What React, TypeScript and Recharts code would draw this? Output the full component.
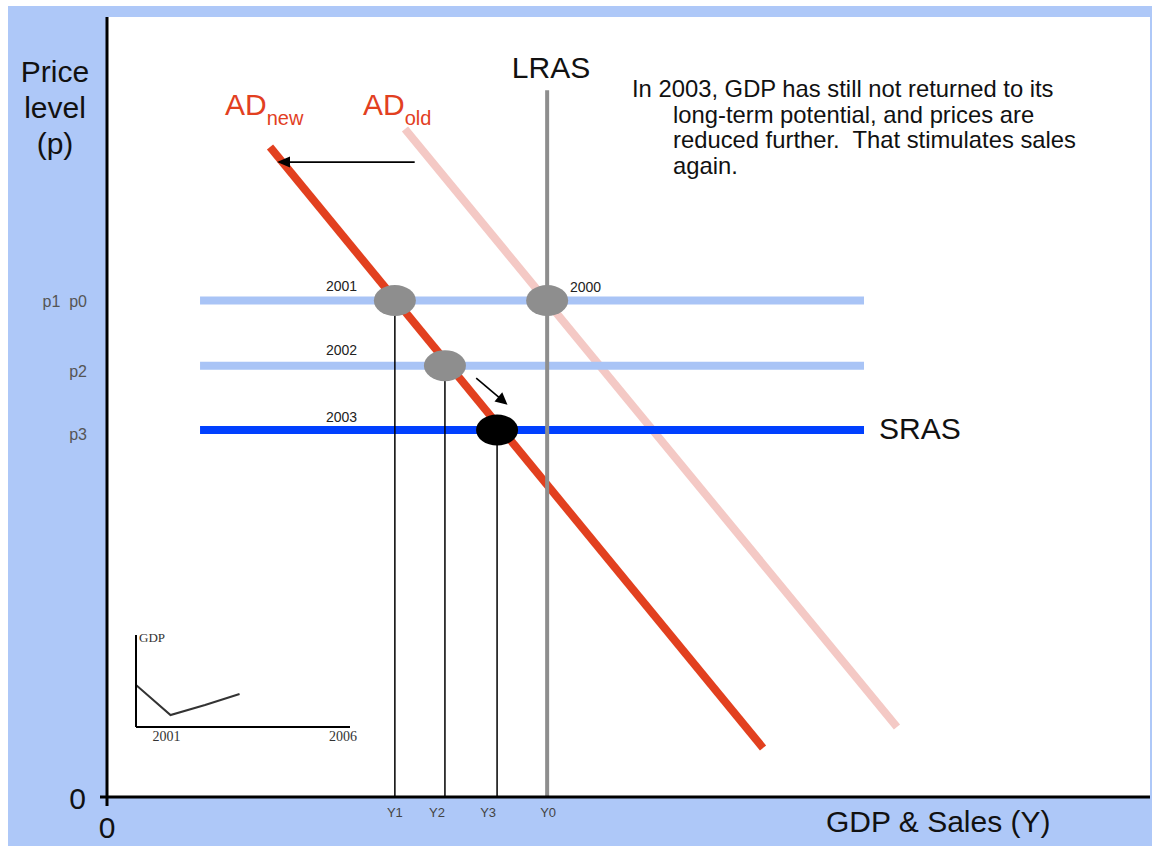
import React from 'react';
import { ComposedChart, LineChart, Line, XAxis, YAxis, Scatter, ReferenceLine } from 'recharts';

const SANS = '"Liberation Sans", Arial, Helvetica, sans-serif';
const SERIF = '"Liberation Serif", "Times New Roman", serif';

// ---- quantities (x: output Y, y: price level p), both on a 0..100 scale ----
const Y1 = 27.6;
const Y2 = 32.4;
const Y3 = 37.4;
const Y0 = 42.2;
const p0 = 63.65;
const p2 = 55.3;
const p3 = 47.05;

const xTicks = [0, Y1, Y2, Y3, Y0];
const xTickLabels = ['0', 'Y1', 'Y2', 'Y3', 'Y0'];
const yTicks = [0, p3, p2, p0];
const yTickLabels = ['0', 'p3', 'p2', 'p1  p0'];

const adNew = [{ x: 15.63, y: 83.33 }, { x: 62.9, y: 6.28 }];
const adOld = [{ x: 28.57, y: 85.64 }, { x: 75.74, y: 8.97 }];
const lras = [{ x: Y0, y: 0 }, { x: Y0, y: 90.6 }];
const srasFrom = 8.92;
const srasTo = 72.58;
const srasP0 = [{ x: srasFrom, y: p0 }, { x: srasTo, y: p0 }];
const srasP2 = [{ x: srasFrom, y: p2 }, { x: srasTo, y: p2 }];
const srasP3 = [{ x: srasFrom, y: p3 }, { x: srasTo, y: p3 }];
const dropY1 = [{ x: Y1, y: 0 }, { x: Y1, y: p0 }];
const dropY2 = [{ x: Y2, y: 0 }, { x: Y2, y: p2 }];
const dropY3 = [{ x: Y3, y: 0 }, { x: Y3, y: p3 }];

const pastEquilibria = [
  { x: Y0, y: p0, year: '2000' },
  { x: Y1, y: p0, year: '2001' },
  { x: Y2, y: p2, year: '2002' },
];
const currentEquilibrium = [{ x: Y3, y: p3, year: '2003' }];

const shiftArrow = [{ x: 29.5, y: 81.4 }, { x: 16.3, y: 81.4 }];
const moveArrow = [{ x: 35.4, y: 53.7 }, { x: 38.4, y: 50.3 }];

// inset GDP path
const insetYears = [2000, 2001, 2002, 2003];
const insetGdp = [45.7, 13, 23.9, 35.9];
const insetData = insetYears.map((yr, i) => ({ year: yr, gdp: insetGdp[i] }));
const insetTicks = [2001, 2006];

const BG_BLUE = '#aec8f8';
const LIGHT_BLUE = '#a9c4f6';
const DARK_BLUE = '#0040ff';
const RED = '#e2401f';
const PINK = '#f4c9c5';
const GRAY = '#8e8e8e';

const xDx = [0, 0, -8, -9, 1];
const XTick = (props: any) => {
  const { x, y, payload } = props;
  const idx = xTicks.indexOf(payload.value);
  const label = idx >= 0 ? xTickLabels[idx] : '';
  if (payload.value === 0) {
    return (
      <g>
        <line x1={x} y1={y} x2={x} y2={y + 9} stroke="#000" strokeWidth={3} />
        <text x={x} y={y + 41} textAnchor="middle" fontFamily={SANS} fontSize={30} fill="#111">{label}</text>
      </g>
    );
  }
  return (
    <text x={x + xDx[idx]} y={y + 20} textAnchor="middle" fontFamily={SANS} fontSize={13} fill="#444">{label}</text>
  );
};

const yDy = [0, 10, 11, 6];
const YTick = (props: any) => {
  const { x, y, payload } = props;
  const idx = yTicks.indexOf(payload.value);
  const label = idx >= 0 ? yTickLabels[idx] : '';
  if (payload.value === 0) {
    return (
      <g>
        <line x1={x - 7} y1={y} x2={x} y2={y} stroke="#000" strokeWidth={3} />
        <text x={x - 21} y={y + 12} textAnchor="end" fontFamily={SANS} fontSize={30} fill="#111">{label}</text>
      </g>
    );
  }
  return (
    <text x={x - 20} y={y + yDy[idx]} textAnchor="end" fontFamily={SANS} fontSize={16} fill="#555" style={{ whiteSpace: 'pre' }}>{label}</text>
  );
};

const InsetTick = (props: any) => {
  const { x, y, payload } = props;
  return (
    <text x={payload.value === 2006 ? x : x - 4} y={y + 14} textAnchor="middle" fontFamily={SERIF} fontSize={14} fill="#333">{String(payload.value)}</text>
  );
};

const makeArrow = (head: number, half: number) => (props: any) => {
  const { x1, y1, x2, y2 } = props;
  const ang = Math.atan2(y2 - y1, x2 - x1);
  const bx = x2 - head * Math.cos(ang);
  const by = y2 - head * Math.sin(ang);
  const px = -Math.sin(ang) * half;
  const py = Math.cos(ang) * half;
  return (
    <g>
      <line x1={x1} y1={y1} x2={bx + 2 * Math.cos(ang)} y2={by + 2 * Math.sin(ang)} stroke="#000" strokeWidth={1.6} />
      <polygon points={`${x2},${y2} ${bx + px},${by + py} ${bx - px},${by - py}`} fill="#000" />
    </g>
  );
};

const Ellipse = (color: string) => (props: any) => {
  const { cx, cy } = props;
  return <ellipse cx={cx} cy={cy} rx={21} ry={15.5} fill={color} />;
};

export default function App() {
  return (
    <div style={{ position: 'absolute', left: 0, top: 0, width: 1152, height: 846, background: '#fff' }}>
      <div style={{ position: 'absolute', left: 8, top: 6, width: 1144, height: 840, background: BG_BLUE }} />
      <div style={{ position: 'absolute', left: 107, top: 17, width: 1043, height: 780, background: '#fff' }} />
      <div style={{ position: 'absolute', left: 0, top: 0 }}>
        <ComposedChart width={1152} height={846} margin={{ top: 17, right: 2, bottom: 0, left: 7 }}>
          <XAxis
            type="number"
            dataKey="x"
            domain={[0, 100]}
            ticks={xTicks}
            interval={0}
            height={49}
            tickSize={0}
            tickMargin={0}
            tickLine={false}
            axisLine={{ stroke: '#000', strokeWidth: 3 }}
            tick={<XTick />}
            allowDataOverflow
          />
          <YAxis
            type="number"
            dataKey="y"
            domain={[0, 100]}
            ticks={yTicks}
            interval={0}
            width={100}
            tickSize={0}
            tickMargin={0}
            tickLine={false}
            axisLine={{ stroke: '#000', strokeWidth: 3 }}
            tick={<YTick />}
            allowDataOverflow
          />
          <Line data={adOld} dataKey="y" stroke={PINK} strokeWidth={8} dot={false} activeDot={false} isAnimationActive={false} />
          <Line data={adNew} dataKey="y" stroke={RED} strokeWidth={8} dot={false} activeDot={false} isAnimationActive={false} />
          <Line data={srasP0} dataKey="y" stroke={LIGHT_BLUE} strokeWidth={8} dot={false} activeDot={false} isAnimationActive={false} />
          <Line data={srasP2} dataKey="y" stroke={LIGHT_BLUE} strokeWidth={8} dot={false} activeDot={false} isAnimationActive={false} />
          <Line data={srasP3} dataKey="y" stroke={DARK_BLUE} strokeWidth={8} dot={false} activeDot={false} isAnimationActive={false} />
          <Line data={lras} dataKey="y" stroke={GRAY} strokeWidth={4} dot={false} activeDot={false} isAnimationActive={false} />
          <Line data={dropY1} dataKey="y" stroke="#000" strokeWidth={1.5} dot={false} activeDot={false} isAnimationActive={false} />
          <Line data={dropY2} dataKey="y" stroke="#000" strokeWidth={1.5} dot={false} activeDot={false} isAnimationActive={false} />
          <Line data={dropY3} dataKey="y" stroke="#000" strokeWidth={1.5} dot={false} activeDot={false} isAnimationActive={false} />
          <Scatter data={pastEquilibria} dataKey="y" shape={Ellipse('#8e8e8e')} isAnimationActive={false} />
          <Scatter data={currentEquilibrium} dataKey="y" shape={Ellipse('#000')} isAnimationActive={false} />
          <ReferenceLine segment={shiftArrow} stroke="#000" shape={makeArrow(13, 5.5)} ifOverflow="visible" />
          <ReferenceLine segment={moveArrow} stroke="#000" shape={makeArrow(12, 6)} ifOverflow="visible" />
        </ComposedChart>
      </div>

      <div style={{ position: 'absolute', left: 126, top: 625 }}>
        <LineChart width={234} height={132} data={insetData} margin={{ top: 10, right: 10, bottom: 0, left: 0 }}>
          <XAxis
            type="number"
            dataKey="year"
            domain={[2000, 2006.2]}
            ticks={insetTicks}
            interval={0}
            height={30}
            tickSize={0}
            tickMargin={0}
            tickLine={false}
            axisLine={{ stroke: '#000', strokeWidth: 2 }}
            tick={<InsetTick />}
            allowDataOverflow
          />
          <YAxis type="number" domain={[0, 100]} width={10} tick={false} tickLine={false} axisLine={{ stroke: '#000', strokeWidth: 2 }} />
          <Line dataKey="gdp" stroke="#333" strokeWidth={2} dot={false} activeDot={false} isAnimationActive={false} />
        </LineChart>
      </div>

      <svg width={1152} height={846} style={{ position: 'absolute', left: 0, top: 0, pointerEvents: 'none' }}>
        <g fontFamily={SANS} fill="#111">
          <text x={55} y={82} fontSize={30} textAnchor="middle">Price</text>
          <text x={55} y={118} fontSize={30} textAnchor="middle">level</text>
          <text x={55} y={154} fontSize={30} textAnchor="middle">(p)</text>
          <text x={551} y={78} fontSize={30} textAnchor="middle">LRAS</text>
          <text x={879} y={439} fontSize={30}>SRAS</text>
          <text x={826} y={832} fontSize={30}>GDP &amp; Sales (Y)</text>
          <text x={632} y={97} fontSize={23.8}>In 2003, GDP has still not returned to its</text>
          <text x={673} y={122.5} fontSize={23.8}>long-term potential, and prices are</text>
          <text x={673} y={148} fontSize={23.8} style={{ whiteSpace: 'pre' }}>reduced further.  That stimulates sales</text>
          <text x={673} y={173.5} fontSize={23.8}>again.</text>
        </g>
        <g fontFamily={SANS} fill={RED}>
          <text x={225} y={115} fontSize={30}>AD<tspan fontSize={20} dy={10}>new</tspan></text>
          <text x={363} y={115} fontSize={30}>AD<tspan fontSize={20} dy={10}>old</tspan></text>
        </g>
        <g fontFamily={SANS} fill="#222" fontSize={14}>
          <text x={326} y={291}>2001</text>
          <text x={326} y={355}>2002</text>
          <text x={326} y={422}>2003</text>
          <text x={570} y={292}>2000</text>
        </g>
        <text x={139} y={642} fontFamily={SERIF} fontSize={13} fill="#333">GDP</text>
      </svg>
    </div>
  );
}
